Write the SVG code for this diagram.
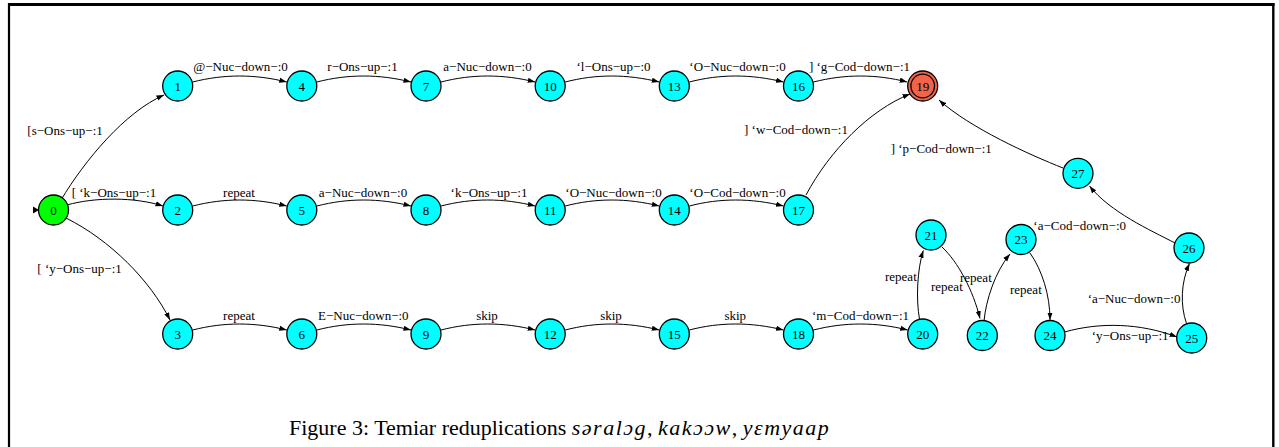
<svg xmlns="http://www.w3.org/2000/svg" width="1279" height="447" viewBox="0 0 1279 447">
<style>
.n circle{stroke:#000;stroke-width:1.3}
.c{fill:#00ffff}
.t{font-family:"Liberation Serif","Times New Roman",serif;font-size:13px;fill:#000}
.nt{text-anchor:middle}
.m{text-anchor:middle}
#edges path{fill:none;stroke:#000;stroke-width:1}
.cap{font-family:"Liberation Serif","Times New Roman",serif;font-size:22px;fill:#000}
.it{font-style:italic;letter-spacing:1.5px}
</style>
<defs>
<marker id="ah" markerUnits="userSpaceOnUse" markerWidth="8" markerHeight="6" refX="7.5" refY="3" orient="auto">
<path d="M0,0.4 L7.5,3 L0,5.6 z" fill="#000"/>
</marker>
</defs>
<rect width="1279" height="447" fill="#fff"/>
<g id="frame" stroke="#000" fill="none">
<line x1="9" y1="3" x2="9" y2="447" stroke-width="2.2"/>
<line x1="8" y1="4.5" x2="1274.5" y2="4.5" stroke-width="3"/>
<line x1="1273.3" y1="3" x2="1273.3" y2="447" stroke-width="2.4"/>
</g>
<g id="edges" marker-end="url(#ah)">
<path d="M61,200 C85,160 125,112 164,95"/>
<path d="M67,205 C95,197 135,197 163,206"/>
<path d="M66,218 C110,240 150,280 170,320"/>
<path d="M192.7,82 C224,74 255,74 286.8,82"/>
<path d="M316.8,82 C348,74 379,74 411,82"/>
<path d="M441,82 C472,74 503,74 535.2,82"/>
<path d="M565.2,82 C596,74 627,74 659.3,82"/>
<path d="M689.3,82 C720,74 751,74 783.5,82"/>
<path d="M813.5,82 C845,74 876,74 907.2,82"/>
<path d="M192.7,206 C224,198 255,198 286.8,206"/>
<path d="M316.8,206 C348,198 379,198 411,206"/>
<path d="M441,206 C472,198 503,198 535.2,206"/>
<path d="M565.2,206 C596,198 627,198 659.3,206"/>
<path d="M689.3,206 C720,198 751,198 783.5,206"/>
<path d="M806,195 C830,150 870,110 910,94"/>
<path d="M1063,168 C1030,155 970,128 939,100"/>
<path d="M1175,243 C1150,230 1110,212 1089.5,186"/>
<path d="M1186.5,323.5 C1180,305 1181,282 1189.5,263.5"/>
<path d="M1064.5,332 C1100,322 1140,323 1177,337"/>
<path d="M1030,253 C1042,270 1050,295 1050,320"/>
<path d="M984,321 C986,300 995,272 1010,254"/>
<path d="M942,247 C958,262 973,290 980,318.5"/>
<path d="M919.5,319 C916,300 917,270 923.3,250.5"/>
<path d="M192.7,330 C224,322 255,322 286.8,330"/>
<path d="M316.8,330 C348,322 379,322 411,330"/>
<path d="M441,330 C472,322 503,322 535.2,330"/>
<path d="M565.2,330 C596,322 627,322 659.3,330"/>
<path d="M689.3,330 C720,322 751,322 783.5,330"/>
<path d="M813.5,330 C845,322 876,322 907.7,330"/>
</g>
<polygon id="start" points="33,206.5 39,210 33,213.5" fill="#000"/>
<g id="labels" class="t">
<text x="27.3" y="134.5">[s−Ons−up−:1</text>
<text x="71.7" y="197">[ ‘k−Ons−up−:1</text>
<text x="37.3" y="273">[ ‘y−Ons−up−:1</text>
<text class="m" x="240.5" y="71">@−Nuc−down−:0</text>
<text class="m" x="362.5" y="71">r−Ons−up−:1</text>
<text class="m" x="487.5" y="71">a−Nuc−down−:0</text>
<text class="m" x="613.5" y="71">‘l−Ons−up−:0</text>
<text class="m" x="737.5" y="71">‘O−Nuc−down−:0</text>
<text class="m" x="859.5" y="71">] ‘g−Cod−down−:1</text>
<text class="m" x="239" y="197">repeat</text>
<text class="m" x="363" y="197">a−Nuc−down−:0</text>
<text class="m" x="489" y="197">‘k−Ons−up−:1</text>
<text class="m" x="613.5" y="197">‘O−Nuc−down−:0</text>
<text class="m" x="737.5" y="197">‘O−Cod−down−:0</text>
<text x="744" y="133.5">] ‘w−Cod−down−:1</text>
<text x="890.7" y="152.5">] ‘p−Cod−down−:1</text>
<text class="m" x="239" y="320">repeat</text>
<text class="m" x="363.3" y="320">E−Nuc−down−:0</text>
<text class="m" x="487" y="320">skip</text>
<text class="m" x="611" y="320">skip</text>
<text class="m" x="735.3" y="320">skip</text>
<text class="m" x="860.5" y="320">‘m−Cod−down−:1</text>
<text x="885" y="280.5">repeat</text>
<text x="931" y="290.5">repeat</text>
<text x="960" y="281.5">repeat</text>
<text x="1010" y="294">repeat</text>
<text x="1033.3" y="230">‘a−Cod−down−:0</text>
<text x="1087.7" y="303">‘a−Nuc−down−:0</text>
<text x="1091.7" y="340">‘y−Ons−up−:1</text>
</g>
<g id="node0" class="n"><circle cx="53.5" cy="210" r="15" fill="#00ff00"/><text class="t nt" x="53.5" y="214.5">0</text></g>
<g id="node1" class="n"><circle class="c" cx="177.7" cy="86" r="15"/><text class="t nt" x="177.7" y="90.5">1</text></g>
<g id="node4" class="n"><circle class="c" cx="301.8" cy="86" r="15"/><text class="t nt" x="301.8" y="90.5">4</text></g>
<g id="node7" class="n"><circle class="c" cx="426" cy="86" r="15"/><text class="t nt" x="426" y="90.5">7</text></g>
<g id="node10" class="n"><circle class="c" cx="550.2" cy="86" r="15"/><text class="t nt" x="550.2" y="90.5">10</text></g>
<g id="node13" class="n"><circle class="c" cx="674.3" cy="86" r="15"/><text class="t nt" x="674.3" y="90.5">13</text></g>
<g id="node16" class="n"><circle class="c" cx="798.5" cy="86" r="15"/><text class="t nt" x="798.5" y="90.5">16</text></g>
<g id="node19" class="n"><circle cx="922.7" cy="86" r="15" fill="#f26349"/><circle cx="922.7" cy="86" r="11.8" fill="#f26349"/><text class="t nt" x="922.7" y="90.5">19</text></g>
<g id="node2" class="n"><circle class="c" cx="177.7" cy="210" r="15"/><text class="t nt" x="177.7" y="214.5">2</text></g>
<g id="node5" class="n"><circle class="c" cx="301.8" cy="210" r="15"/><text class="t nt" x="301.8" y="214.5">5</text></g>
<g id="node8" class="n"><circle class="c" cx="426" cy="210" r="15"/><text class="t nt" x="426" y="214.5">8</text></g>
<g id="node11" class="n"><circle class="c" cx="550.2" cy="210" r="15"/><text class="t nt" x="550.2" y="214.5">11</text></g>
<g id="node14" class="n"><circle class="c" cx="674.3" cy="210" r="15"/><text class="t nt" x="674.3" y="214.5">14</text></g>
<g id="node17" class="n"><circle class="c" cx="798.5" cy="210" r="15"/><text class="t nt" x="798.5" y="214.5">17</text></g>
<g id="node3" class="n"><circle class="c" cx="177.7" cy="334" r="15"/><text class="t nt" x="177.7" y="338.5">3</text></g>
<g id="node6" class="n"><circle class="c" cx="301.8" cy="334" r="15"/><text class="t nt" x="301.8" y="338.5">6</text></g>
<g id="node9" class="n"><circle class="c" cx="426" cy="334" r="15"/><text class="t nt" x="426" y="338.5">9</text></g>
<g id="node12" class="n"><circle class="c" cx="550.2" cy="334" r="15"/><text class="t nt" x="550.2" y="338.5">12</text></g>
<g id="node15" class="n"><circle class="c" cx="674.3" cy="334" r="15"/><text class="t nt" x="674.3" y="338.5">15</text></g>
<g id="node18" class="n"><circle class="c" cx="798.5" cy="334" r="15"/><text class="t nt" x="798.5" y="338.5">18</text></g>
<g id="node20" class="n"><circle class="c" cx="922.7" cy="334" r="15"/><text class="t nt" x="922.7" y="338.5">20</text></g>
<g id="node21" class="n"><circle class="c" cx="931" cy="235" r="15"/><text class="t nt" x="931" y="239.5">21</text></g>
<g id="node22" class="n"><circle class="c" cx="982.3" cy="335.5" r="15"/><text class="t nt" x="982.3" y="340">22</text></g>
<g id="node23" class="n"><circle class="c" cx="1021" cy="239.5" r="15"/><text class="t nt" x="1021" y="244">23</text></g>
<g id="node24" class="n"><circle class="c" cx="1050" cy="335.5" r="15"/><text class="t nt" x="1050" y="340">24</text></g>
<g id="node25" class="n"><circle class="c" cx="1191.7" cy="338" r="15"/><text class="t nt" x="1191.7" y="342.5">25</text></g>
<g id="node26" class="n"><circle class="c" cx="1189" cy="248" r="15"/><text class="t nt" x="1189" y="252.5">26</text></g>
<g id="node27" class="n"><circle class="c" cx="1078" cy="173.3" r="15"/><text class="t nt" x="1078" y="177.8">27</text></g>
<text id="caption" class="cap" x="289" y="435">Figure 3: Temiar reduplications <tspan class="it">səralɔg</tspan>, <tspan class="it">kakɔɔw</tspan>, <tspan class="it">yɛmyaap</tspan></text>
</svg>
